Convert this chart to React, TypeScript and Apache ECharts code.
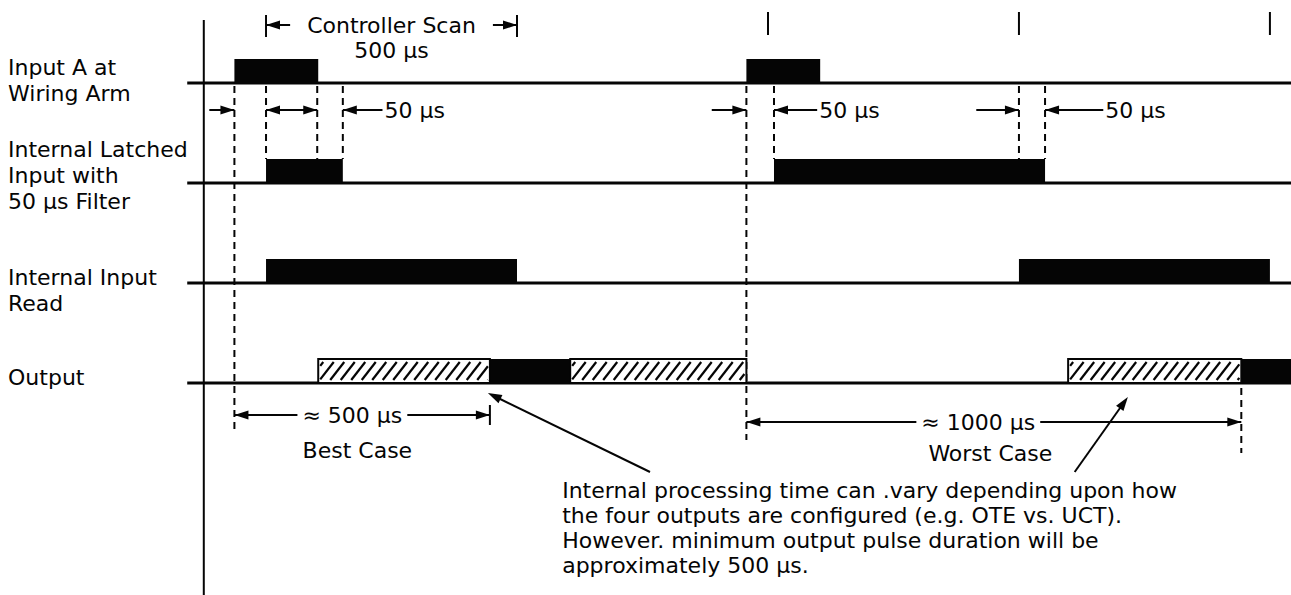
import React, { useEffect, useRef } from "react";
import * as echarts from "echarts";

// ---- axes: time in µs (x) and signal level (y, one unit per row) ----
const T_MIN = -530;
const T_MAX = 2042;
const Y_MAX = 0.83;
const Y_MIN = -5.12;
const HIGH = 0.24;

// ---- rows ----
const rowLabelLines = [
  ["Input A at", "Wiring Arm"],
  ["Internal Latched", "Input with", "50 µs Filter"],
  ["Internal Input", "Read"],
  ["Output"],
];
const rowBaseline = [0, -1, -2, -3];
const rowLabelY = [[0.16, -0.1], [-0.66, -0.92, -1.18], [-1.94, -2.2], [-2.94]];
const LABEL_T = -514;

// ---- scan boundaries & pulses (µs) ----
const scanTicks = [1000, 1500, 2000];
const controllerScan = [0, 500];
const inputA = [[-63, 104], [957, 1104]];
const latched = [[0, 153], [1012, 1552]];
const inputRead = [[0, 500], [1500, 2000]];
const outputSolid = [[446, 606], [1943, 2042]];
const outputHatched = [[104, 446], [606, 957], [1598, 1943]];

// ---- annotation marks ----
const dashed = [
  [-63, -0.03, -3.5],
  [0, -0.03, -0.76],
  [102, -0.03, -0.76],
  [153, -0.03, -0.76],
  [957, -0.03, -3.57],
  [1012, -0.03, -0.76],
  [1500, -0.03, -0.76],
  [1552, -0.03, -0.76],
  [1943, -3.05, -3.7],
];
const mainAxis = [[-124, 0.63, Y_MIN]];
const ARROW_Y = -0.27;
const dimArrows = [
  [-113, -63, ARROW_Y, 0, 1],
  [0, 102, ARROW_Y, 1, 1],
  [153, 232, ARROW_Y, 1, 0],
  [888, 957, ARROW_Y, 0, 1],
  [1012, 1098, ARROW_Y, 1, 0],
  [1415, 1500, ARROW_Y, 0, 1],
  [1552, 1668, ARROW_Y, 1, 0],
  [0, 48, 0.58, 1, 0],
  [452, 500, 0.58, 0, 1],
  [-63, 446, -3.32, 1, 1],
  [957, 1943, -3.39, 1, 1],
];
const pointers = [
  [765, -3.89, 442, -3.1],
  [1611, -3.89, 1717, -3.14],
];
const labels: [number, number, string, string, boolean][] = [
  [250, 0.58, "Controller Scan", "center", false],
  [250, 0.33, "500 µs", "center", false],
  [236, ARROW_Y, "50 µs", "left", false],
  [1102, ARROW_Y, "50 µs", "left", false],
  [1672, ARROW_Y, "50 µs", "left", false],
  [172, -3.32, "≈ 500 µs", "center", true],
  [182, -3.67, "Best Case", "center", false],
  [1419, -3.39, "≈ 1000 µs", "center", true],
  [1443, -3.7, "Worst Case", "center", false],
];
const noteLines = [
  "Internal processing time can .vary depending upon how",
  "the four outputs are configured (e.g. OTE vs. UCT).",
  "However. minimum output pulse duration will be",
  "approximately 500 µs.",
];
const NOTE_T = 590;
const noteY = [-4.07, -4.32, -4.57, -4.82];

const FONT = '22px "DejaVu Sans"';
const INK = "#050505";

function textEl(x: number, y: number, text: string, align: string, bg: boolean) {
  const style: any = {
    text,
    font: FONT,
    fill: INK,
    align,
    textAlign: align,
    verticalAlign: "middle",
    textVerticalAlign: "middle",
  };
  if (bg) {
    style.backgroundColor = "#fff";
    style.padding = [0, 5];
  }
  return { type: "text", x, y, style };
}

function head(tip: number[], dx: number, dy: number) {
  const L = 14, W = 4.5;
  const bx = tip[0] - dx * L, by = tip[1] - dy * L;
  return {
    type: "polygon",
    shape: { points: [tip, [bx - dy * W, by + dx * W], [bx + dy * W, by - dx * W]] },
    style: { fill: INK },
  };
}

function custom(name: string, data: any[], renderItem: any, z = 2) {
  return { type: "custom", name, data, renderItem, z, silent: true, clip: false };
}

function pulseSeries(name: string, data: number[][], row: number) {
  return custom(name, data, (params: any, api: any) => {
    const s = api.value(0), e = api.value(1);
    const b = rowBaseline[row];
    const p0 = api.coord([s, b + HIGH]);
    const p1 = api.coord([e, b]);
    return {
      type: "rect",
      shape: { x: p0[0], y: p0[1], width: p1[0] - p0[0], height: p1[1] - p0[1] + 1 },
      style: { fill: INK },
    };
  }, 4);
}

export default function App() {
  const ref = useRef<HTMLDivElement>(null);
  useEffect(() => {
    if (!ref.current) return;
    const chart = echarts.init(ref.current, null, { renderer: "svg" });

    const series: any[] = [];

    // baselines
    series.push(custom("baselines", rowBaseline.map((b) => [b]), (params: any, api: any) => {
      const b = api.value(0);
      const p0 = api.coord([-157, b]);
      const p1 = api.coord([T_MAX, b]);
      return { type: "line", shape: { x1: p0[0], y1: p0[1], x2: p1[0], y2: p1[1] }, style: { stroke: INK, lineWidth: 3 } };
    }, 3));

    // main vertical axis line
    series.push(custom("axis", mainAxis, (params: any, api: any) => {
      const p0 = api.coord([api.value(0), api.value(1)]);
      const p1 = api.coord([api.value(0), api.value(2)]);
      return { type: "line", shape: { x1: p0[0], y1: p0[1], x2: p1[0], y2: p1[1] }, style: { stroke: INK, lineWidth: 2 } };
    }, 3));

    series.push(pulseSeries("Input A", inputA, 0));
    series.push(pulseSeries("Latched", latched, 1));
    series.push(pulseSeries("Input Read", inputRead, 2));
    series.push(pulseSeries("Output", outputSolid, 3));

    // hatched output
    series.push(custom("Output (variable)", outputHatched, (params: any, api: any) => {
      const s = api.value(0), e = api.value(1);
      const b = rowBaseline[3];
      const p0 = api.coord([s, b + HIGH]);
      const p1 = api.coord([e, b]);
      const x0 = p0[0], y0 = p0[1], x1 = p1[0], y1 = p1[1];
      const children: any[] = [
        { type: "rect", shape: { x: x0, y: y0, width: x1 - x0, height: y1 - y0 }, style: { fill: "#fff", stroke: INK, lineWidth: 2 } },
      ];
      const slant = 14, gap = 10.5, inset = 3;
      const ty = y0 + inset, by = y1 - inset;
      for (let xb = x0 - slant + 5; xb < x1; xb += gap) {
        const umin = Math.max(0, (x0 + 2 - xb) / slant);
        const umax = Math.min(1, (x1 - 2 - xb) / slant);
        if (umax > umin) {
          children.push({
            type: "line",
            shape: {
              x1: xb + slant * umin, y1: by - (by - ty) * umin,
              x2: xb + slant * umax, y2: by - (by - ty) * umax,
            },
            style: { stroke: INK, lineWidth: 2.2 },
          });
        }
      }
      return { type: "group", children };
    }, 4));

    // dashed guides
    series.push(custom("guides", dashed, (params: any, api: any) => {
      const p0 = api.coord([api.value(0), api.value(1)]);
      const p1 = api.coord([api.value(0), api.value(2)]);
      return { type: "line", shape: { x1: p0[0], y1: p0[1], x2: p1[0], y2: p1[1] }, style: { stroke: INK, lineWidth: 2, lineDash: [7, 5] } };
    }, 3));

    // scan ticks + bracket ends
    const solidTicks = [
      ...controllerScan.map((t) => [t, 0.68, 0.46]),
      ...scanTicks.map((t) => [t, 0.71, 0.48]),
      [446, -3.22, -3.42],
    ];
    series.push(custom("ticks", solidTicks, (params: any, api: any) => {
      const p0 = api.coord([api.value(0), api.value(1)]);
      const p1 = api.coord([api.value(0), api.value(2)]);
      return { type: "line", shape: { x1: p0[0], y1: p0[1], x2: p1[0], y2: p1[1] }, style: { stroke: INK, lineWidth: 2 } };
    }, 3));

    // dimension arrows
    series.push(custom("dims", dimArrows, (params: any, api: any) => {
      const [t0, t1, y, hs, he] = dimArrows[params.dataIndex];
      const p0 = api.coord([t0, y]);
      const p1 = api.coord([t1, y]);
      const children: any[] = [
        { type: "line", shape: { x1: p0[0], y1: p0[1], x2: p1[0], y2: p1[1] }, style: { stroke: INK, lineWidth: 2 } },
      ];
      if (hs) children.push(head(p0, -1, 0));
      if (he) children.push(head(p1, 1, 0));
      return { type: "group", children };
    }, 5));

    // pointer arrows
    series.push(custom("pointers", pointers, (params: any, api: any) => {
      const [t0, y0, t1, y1] = pointers[params.dataIndex];
      const p0 = api.coord([t0, y0]);
      const p1 = api.coord([t1, y1]);
      const len = Math.hypot(p1[0] - p0[0], p1[1] - p0[1]);
      const dx = (p1[0] - p0[0]) / len, dy = (p1[1] - p0[1]) / len;
      return {
        type: "group",
        children: [
          { type: "line", shape: { x1: p0[0], y1: p0[1], x2: p1[0] - dx * 8, y2: p1[1] - dy * 8 }, style: { stroke: INK, lineWidth: 2 } },
          head(p1, dx, dy),
        ],
      };
    }, 5));

    // chart labels
    series.push(custom("labels", labels.map((l) => [l[0], l[1]]), (params: any, api: any) => {
      const l = labels[params.dataIndex];
      const p = api.coord([l[0], l[1]]);
      return textEl(p[0], p[1], l[2], l[3], l[4]);
    }, 6));

    // row labels
    const rowLabelData: any[] = [];
    rowLabelLines.forEach((lines, r) => lines.forEach((txt, i) => rowLabelData.push([LABEL_T, rowLabelY[r][i], txt])));
    series.push(custom("rowLabels", rowLabelData.map((d) => [d[0], d[1]]), (params: any, api: any) => {
      const d = rowLabelData[params.dataIndex];
      const p = api.coord([d[0], d[1]]);
      return textEl(p[0], p[1], d[2], "left", false);
    }, 6));

    // note paragraph
    series.push(custom("note", noteLines.map((_, i) => [NOTE_T, noteY[i]]), (params: any, api: any) => {
      const p = api.coord([NOTE_T, noteY[params.dataIndex]]);
      return textEl(p[0], p[1], noteLines[params.dataIndex], "left", false);
    }, 6));

    chart.setOption({
      animation: false,
      backgroundColor: "#fff",
      grid: { left: 0, right: 0, top: 0, bottom: 0, containLabel: false },
      xAxis: { type: "value", min: T_MIN, max: T_MAX, show: false },
      yAxis: { type: "value", min: Y_MIN, max: Y_MAX, show: false },
      series,
    });
    return () => chart.dispose();
  }, []);

  return (
    <div
      ref={ref}
      style={{ position: "fixed", left: 0, top: 0, width: 1291, height: 595, background: "#fff" }}
    />
  );
}
